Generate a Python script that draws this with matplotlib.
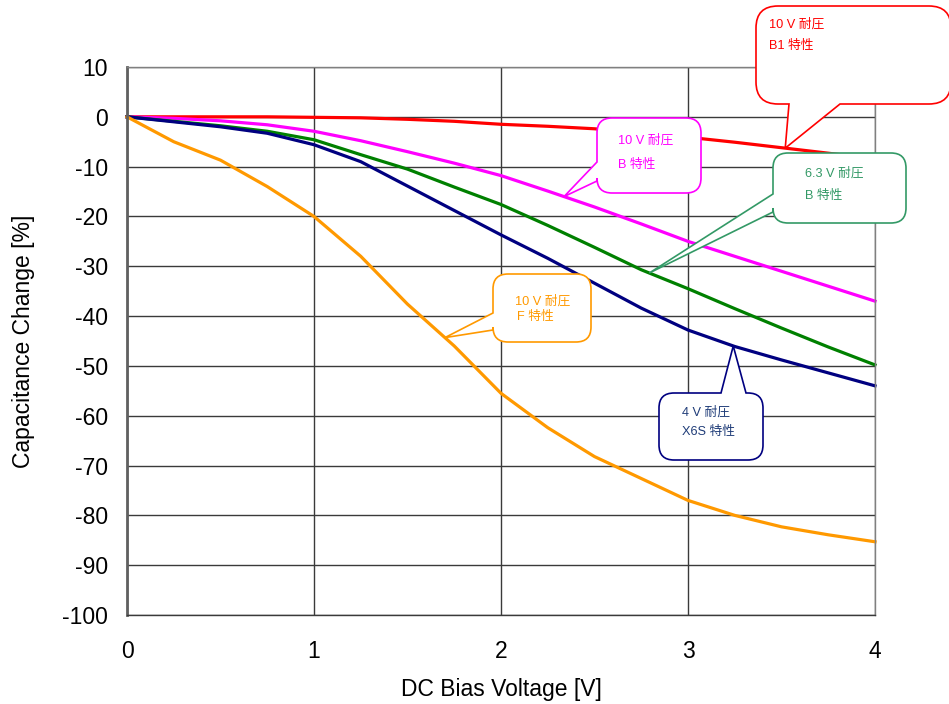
import numpy as np
import matplotlib
matplotlib.use("Agg")
import matplotlib.pyplot as plt
from matplotlib.path import Path
from matplotlib.patches import PathPatch

# ---------------- data ----------------
voltage = [0, 0.25, 0.5, 0.75, 1.0, 1.25, 1.5, 1.75, 2.0, 2.25, 2.5, 2.75, 3.0, 3.25, 3.5, 3.75, 4.0]
red_b1 = [0, 0, 0, 0, -0.1, -0.2, -0.5, -0.9, -1.5, -1.9, -2.4, -3.2, -4.1, -5.1, -6.2, -7.3, -8.5]
magenta_b = [0, -0.3, -0.8, -1.6, -2.9, -4.8, -7.0, -9.3, -11.8, -14.9, -18.1, -21.5, -25.0, -28.0, -31.0, -34.0, -37.0]
green_b = [0, -0.9, -1.8, -2.9, -4.6, -7.6, -10.5, -14.1, -17.6, -21.8, -26.2, -30.7, -34.5, -38.5, -42.4, -46.2, -49.8]
navy_x6s = [0, -1.0, -2.0, -3.3, -5.6, -9.0, -13.9, -18.8, -23.7, -28.4, -33.4, -38.4, -42.8, -46.1, -48.8, -51.4, -54.0]
orange_f = [0, -5.0, -8.7, -14.0, -20.0, -28.0, -37.6, -46.0, -55.5, -62.4, -68.2, -72.6, -77.0, -80.0, -82.3, -83.9, -85.3]

x_ticks = [0, 1, 2, 3, 4]
y_ticks = [10, 0, -10, -20, -30, -40, -50, -60, -70, -80, -90, -100]

W, H = 949, 704
plt.rcParams['font.family'] = ['Liberation Sans', 'Noto Sans CJK JP', 'DejaVu Sans']

fig = plt.figure(figsize=(W / 100, H / 100), dpi=100)
ax = fig.add_axes([127 / W, 1 - 615 / H, 748 / W, 548 / H])
ax.set_xlim(0, 4)
ax.set_ylim(-100, 10)
ax.set_xticks(x_ticks)
ax.set_yticks(y_ticks)
ax.set_xticklabels([str(v) for v in x_ticks], fontsize=16.5)
ax.set_yticklabels([str(v) for v in y_ticks], fontsize=16.5)
ax.tick_params(axis='y', length=0, pad=13.5)
ax.tick_params(axis='x', length=0, pad=18)
ax.grid(True, color='#3a3a3a', linewidth=1.0)
ax.set_axisbelow(True)
for s in ['top', 'right', 'bottom']:
    ax.spines[s].set_color('#3a3a3a')
    ax.spines[s].set_linewidth(1.0)
ax.spines['top'].set_color('#808080')
ax.spines['right'].set_color('#808080')
ax.spines['left'].set_color('#606060')
ax.spines['left'].set_linewidth(2.0)
ax.set_xlabel('DC Bias Voltage [V]', fontsize=16.5, labelpad=11)
ax.set_ylabel('Capacitance Change [%]', fontsize=16.5, labelpad=20)

series = [
    (red_b1, '#FF0000'),
    (magenta_b, '#FF00FF'),
    (green_b, '#008000'),
    (navy_x6s, '#000080'),
    (orange_f, '#FF9900'),
]
for vals, col in series:
    ax.plot(voltage, vals, color=col, linewidth=2.3, solid_joinstyle='round', clip_on=False)


def tip_px(v, vals):
    y = np.interp(v, voltage, vals)
    dx, dy = ax.transData.transform((v, y))
    return dx, H - dy


def bubble(x0, y0, x1, y1, r, edge, a, b, tip, ec, lw=1.2):
    """Rounded rectangle in pixel coords (y down) with a tail on an edge."""
    verts = []
    codes = []

    def mv(p):
        verts.append(p); codes.append(Path.MOVETO)

    def ln(p):
        verts.append(p); codes.append(Path.LINETO)

    def cv(c, p):
        verts.extend([c, p]); codes.extend([Path.CURVE3, Path.CURVE3])

    mv((x0 + r, y0))
    if edge == 'top':
        ln((a, y0)); ln(tip); ln((b, y0))
    ln((x1 - r, y0))
    cv((x1, y0), (x1, y0 + r))
    ln((x1, y1 - r))
    cv((x1, y1), (x1 - r, y1))
    if edge == 'bottom':
        ln((b, y1)); ln(tip); ln((a, y1))
    ln((x0 + r, y1))
    cv((x0, y1), (x0, y1 - r))
    if edge == 'left':
        ln((x0, b)); ln(tip); ln((x0, a))
    ln((x0, y0 + r))
    cv((x0, y0), (x0 + r, y0))
    codes.append(Path.CLOSEPOLY); verts.append((x0 + r, y0))
    fv = [(x / W, 1 - y / H) for x, y in verts]
    patch = PathPatch(Path(fv, codes), facecolor='white', edgecolor=ec,
                      linewidth=lw, transform=fig.transFigure, zorder=5)
    fig.add_artist(patch)


def label(x, y, s, col):
    fig.text(x / W, 1 - y / H, s, color=col, fontsize=9.2, ha='left', va='center', zorder=6)


# red callout: 10 V B1
bubble(756, 6, 951, 104, 22, 'bottom', 789, 840, tip_px(3.52, red_b1), '#FF0000')
label(769, 24, '10 V 耐圧', '#FF0000')
label(769, 46, 'B1 特性', '#FF0000')

# magenta callout: 10 V B
bubble(597, 118, 701, 193, 15, 'left', 162, 181, tip_px(2.337, magenta_b), '#FF00FF')
label(618, 140, '10 V 耐圧', '#FF00FF')
label(618, 165, 'B 特性', '#FF00FF')

# green callout: 6.3 V B
bubble(773, 153, 906, 223, 15, 'left', 194, 212, tip_px(2.793, green_b), '#339966')
label(805, 173, '6.3 V 耐圧', '#339966')
label(805, 196, 'B 特性', '#339966')

# orange callout: 10 V F
bubble(493, 274, 591, 342, 15, 'left', 313, 330, tip_px(1.70, orange_f), '#FF9900')
label(515, 301, '10 V 耐圧', '#FF9900')
label(517, 317, 'F 特性', '#FF9900')

# navy callout: 4 V X6S
bubble(659, 393, 763, 460, 15, 'top', 721, 746, tip_px(3.242, navy_x6s), '#000080')
label(682, 412, '4 V 耐圧', '#1F3C78')
label(682, 432, 'X6S 特性', '#1F3C78')

fig.savefig('out.png', dpi=100)
